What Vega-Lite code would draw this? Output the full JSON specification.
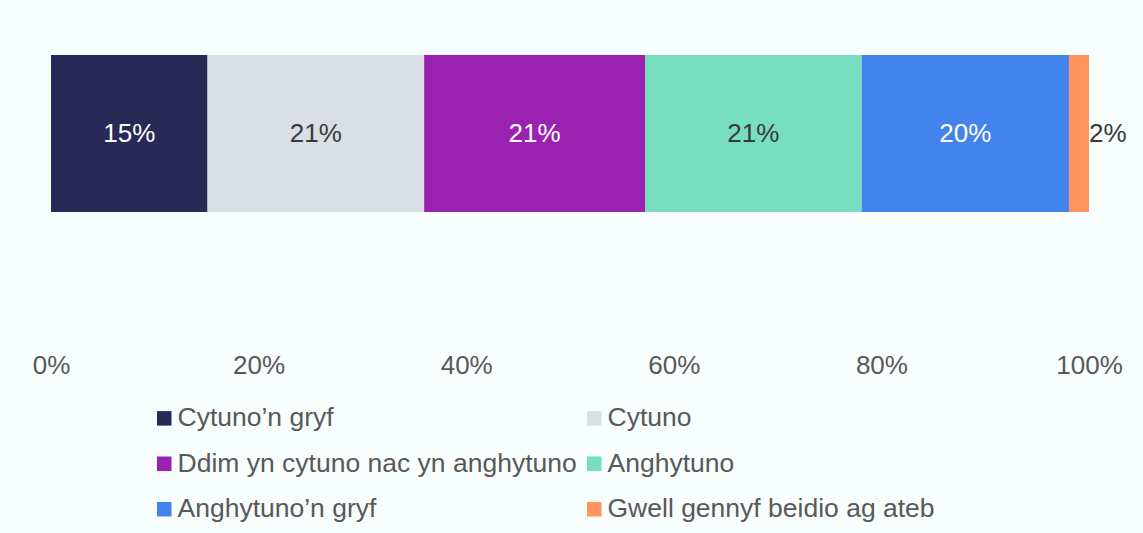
{
  "$schema": "https://vega.github.io/schema/vega-lite/v6.json",
  "width": 1038,
  "height": 267,
  "autosize": {"type": "none"},
  "padding": {"left": 51, "top": 0, "right": 54, "bottom": 266},
  "background": "#f8fdfd",
  "config": {"view": {"stroke": null}, "font": "Liberation Sans"},
  "data": {
    "values": [
      {"q": "Q", "idx": 1, "cat": "Cytuno’n gryf", "value": 0.1508},
      {"q": "Q", "idx": 2, "cat": "Cytuno", "value": 0.2087},
      {"q": "Q", "idx": 3, "cat": "Ddim yn cytuno nac yn anghytuno", "value": 0.2128},
      {"q": "Q", "idx": 4, "cat": "Anghytuno", "value": 0.2087},
      {"q": "Q", "idx": 5, "cat": "Anghytuno’n gryf", "value": 0.1997},
      {"q": "Q", "idx": 6, "cat": "Gwell gennyf beidio ag ateb", "value": 0.0193}
    ]
  },
  "encoding": {
    "y": {"field": "q", "type": "nominal", "axis": null, "scale": {"paddingInner": 0, "paddingOuter": 0.35}}
  },
  "layer": [
    {
      "mark": {"type": "bar"},
      "encoding": {
        "x": {
          "field": "value", "type": "quantitative", "stack": "zero",
          "scale": {"domain": [0, 1], "nice": false},
          "axis": {"values": [0, 0.2, 0.4, 0.6, 0.8, 1], "format": ".0%", "labelFontSize": 26, "labelColor": "#595959", "labelPadding": 85, "labelFlush": false, "domain": false, "ticks": false, "grid": false, "title": null}
        },
        "color": {
          "field": "cat", "type": "nominal",
          "scale": {
            "domain": ["Cytuno’n gryf", "Cytuno", "Ddim yn cytuno nac yn anghytuno", "Anghytuno", "Anghytuno’n gryf", "Gwell gennyf beidio ag ateb"],
            "range": ["#292958", "#d9dfe4", "#9b22b1", "#78dec0", "#4383ee", "#ff955c"]
          },
          "legend": {
            "orient": "none", "legendX": 100, "legendY": 405, "direction": "horizontal", "columns": 2,
            "title": null, "symbolType": "square", "symbolSize": 210, "symbolStrokeWidth": 0,
            "labelFontSize": 26.5, "labelColor": "#595959", "labelOffset": 0, "rowPadding": 18.5, "columnPadding": 4,
            "padding": 0, "labelLimit": 600
          }
        },
        "order": {"field": "idx", "type": "quantitative"}
      }
    },
    {
      "transform": [
        {"stack": "value", "groupby": ["q"], "sort": [{"field": "idx"}], "as": ["v0", "v1"]},
        {"calculate": "(datum.v0 + datum.v1) / 2", "as": "mid"},
        {"filter": "datum.idx < 6"}
      ],
      "mark": {"type": "text", "fontSize": 26, "align": "center", "baseline": "middle"},
      "encoding": {
        "x": {"field": "mid", "type": "quantitative"},
        "text": {"field": "value", "type": "quantitative", "format": ".0%"},
        "color": {
          "condition": {"test": "datum.idx == 2 || datum.idx == 4", "value": "#3a3a3a"},
          "value": "#ffffff"
        }
      }
    },
    {
      "transform": [
        {"stack": "value", "groupby": ["q"], "sort": [{"field": "idx"}], "as": ["v0", "v1"]},
        {"filter": "datum.idx == 6"}
      ],
      "mark": {"type": "text", "fontSize": 26, "align": "left", "baseline": "middle", "color": "#3a3a3a"},
      "encoding": {
        "x": {"field": "v1", "type": "quantitative"},
        "text": {"field": "value", "type": "quantitative", "format": ".0%"}
      }
    }
  ]
}
